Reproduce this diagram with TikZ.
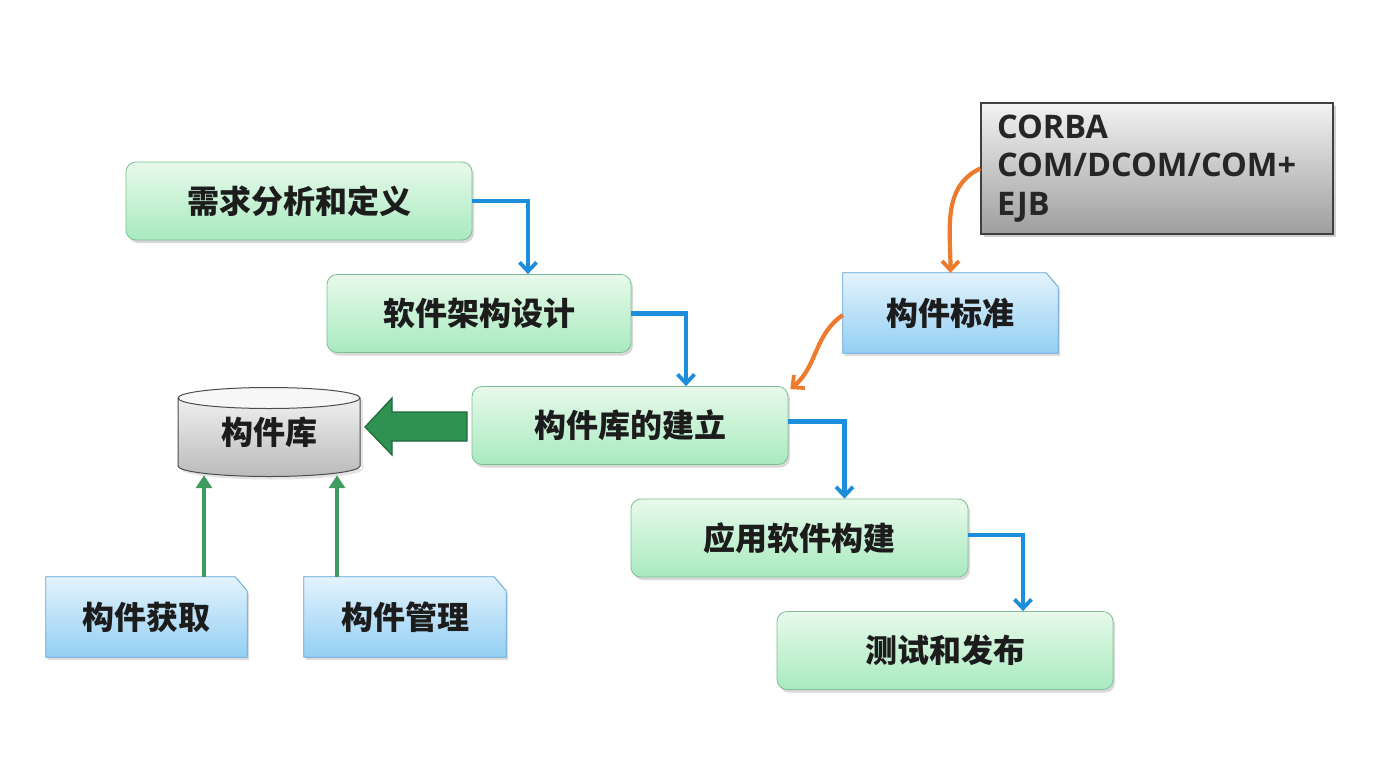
\documentclass[tikz,border=0pt]{standalone}
\usepackage{fontspec}
\newfontfamily\cjk{Noto Sans CJK SC}
\newfontfamily\latinsans{Open Sans}
\usetikzlibrary{arrows.meta,shadows,backgrounds,calc}
\pgfdeclarelayer{paper}
\pgfsetlayers{paper,background,main}
\definecolor{gtop}{HTML}{E8FAEB}
\definecolor{gbot}{HTML}{A8EABF}
\definecolor{gline}{HTML}{7FBF95}
\definecolor{btop}{HTML}{E3F3FD}
\definecolor{bbot}{HTML}{93CFF3}
\definecolor{bline}{HTML}{5AA2D6}
\definecolor{flowblue}{HTML}{1D8EDC}
\definecolor{stdorange}{HTML}{EE7A2D}
\definecolor{libgreen}{HTML}{3E9C60}
\definecolor{bigarrowfill}{HTML}{2F9152}
\definecolor{bigarrowline}{HTML}{1E6A3A}
\definecolor{txt}{HTML}{1C1C1C}
\tikzset{
  stage/.style={rounded corners=10, minimum height=78, draw=gline, line width=0.8,
    top color=gtop, bottom color=gbot, text=txt,
    font=\cjk\bfseries\fontsize{32}{32}\selectfont,
    drop shadow={shadow xshift=2pt, shadow yshift=-3pt, opacity=0.25, fill=black!60}},
  tagtext/.style={minimum height=80, text=txt, font=\cjk\bfseries\fontsize{32}{32}\selectfont},
  tagfill/.style={top color=btop, bottom color=bbot, draw=bline, line width=0.8},
  tagshadow/.style={fill=black!45, opacity=0.3},
  flow/.style={draw=flowblue, line width=4.2, -{Straight Barb[length=9pt, width=17pt, line width=3.8pt]}},
  stdarrow/.style={draw=stdorange, line width=4.2, -{Straight Barb[length=9pt, width=17pt, line width=3.8pt]}},
  feed/.style={draw=libgreen, line width=3.4, -{Triangle[length=13pt, width=16pt]}},
}
\begin{document}
\begin{tikzpicture}[x=1pt, y=-1pt]
\useasboundingbox (0,0) rectangle (1373,769);
\begin{pgfonlayer}{paper}
  \fill[white] (0,0) rectangle (1373,769);
\end{pgfonlayer}

% process stages
\node[stage, minimum width=346] (req)   at (299,201)   {需求分析和定义};
\node[stage, minimum width=304] (arch)  at (479,313.5) {软件架构设计};
\node[stage, minimum width=316] (build) at (630,425.5) {构件库的建立};
\node[stage, minimum width=337] (app)   at (799.5,538) {应用软件构建};
\node[stage, minimum width=336] (test)  at (945,650.5) {测试和发布};

% tags with a cut corner
\node[tagtext, minimum width=215] (std) at (950.5,313) {构件标准};
\node[tagtext, minimum width=201] (acq) at (146.5,617) {构件获取};
\node[tagtext, minimum width=202] (mgt) at (405,617) {构件管理};
\begin{scope}[on background layer]
  \foreach \n in {std,acq,mgt}{
    \fill[tagshadow] ([shift={(2,3)}]\n.north west) -- ([shift={(-12,3)}]\n.north east)
      -- ([shift={(2,17)}]\n.north east) -- ([shift={(2,3)}]\n.south east)
      -- ([shift={(2,3)}]\n.south west) -- cycle;
    \shade[tagfill] (\n.north west) -- ([xshift=-12pt]\n.north east)
      -- ([yshift=-14pt]\n.north east) -- (\n.south east) -- (\n.south west) -- cycle;
  }
\end{scope}

% component standards
\node[minimum width=352, minimum height=131, text width=320, align=left,
  inner xsep=16, draw=black!75, line width=1.4, top color=black!5, bottom color=black!38,
  text=black!85, font=\latinsans\bfseries\fontsize{32.5}{38.5}\selectfont,
  drop shadow={shadow xshift=3pt, shadow yshift=-3pt, opacity=0.3, fill=black!60}]
  (corba) at (1157,168.5) {CORBA\\COM/DCOM/COM+\\EJB};

% component repository
\node[minimum width=182, minimum height=90, text=txt,
  font=\cjk\bfseries\fontsize{32}{32}\selectfont] (lib) at (269,432) {构件库};
\begin{scope}[on background layer]
  \fill[black!30, opacity=0.35] (181,400) rectangle (363,469)
    (272,469) ellipse [x radius=91, y radius=10.5];
  \shade[top color=black!6, bottom color=black!27]
    (178,398) -- (178,466) arc [start angle=180, end angle=0, x radius=91, y radius=10.5]
    -- (360,398) -- cycle;
  \draw[black!70, line width=1] (178,398) -- (178,466)
    arc [start angle=180, end angle=0, x radius=91, y radius=10.5] -- (360,398);
  \draw[black!70, line width=1, fill=black!3] (269,398) ellipse [x radius=91, y radius=10.5];
\end{scope}

% main flow
\draw[flow] (req.east)   -| ([xshift=49pt]arch.north);
\draw[flow] (arch.east)  -| ([xshift=56pt]build.north);
\draw[flow] ([yshift=4pt]build.east) -| ([xshift=45pt]app.north);
\draw[flow] ([yshift=3pt]app.east)   -| ([xshift=78pt]test.north);

% standards
\draw[stdarrow] (corba.west) to[out=205, in=90] (std.north);
\draw[stdarrow] ([yshift=-2pt]std.west) to[out=215, in=40] ([shift={(2,3)}]build.north east);

% filling the repository
\draw[line width=1.2, draw=bigarrowline, fill=bigarrowfill]
  (467,412) -- (392,412) -- (392,398) -- (365,427) -- (392,455) -- (392,441) -- (467,441) -- cycle;
\coordinate (fa) at (204,0);
\coordinate (fm) at (337,0);
\draw[feed] (acq.north -| fa) -- ([yshift=2pt]fa |- lib.south);
\draw[feed] (mgt.north -| fm) -- ([yshift=2pt]fm |- lib.south);
\end{tikzpicture}
\end{document}
